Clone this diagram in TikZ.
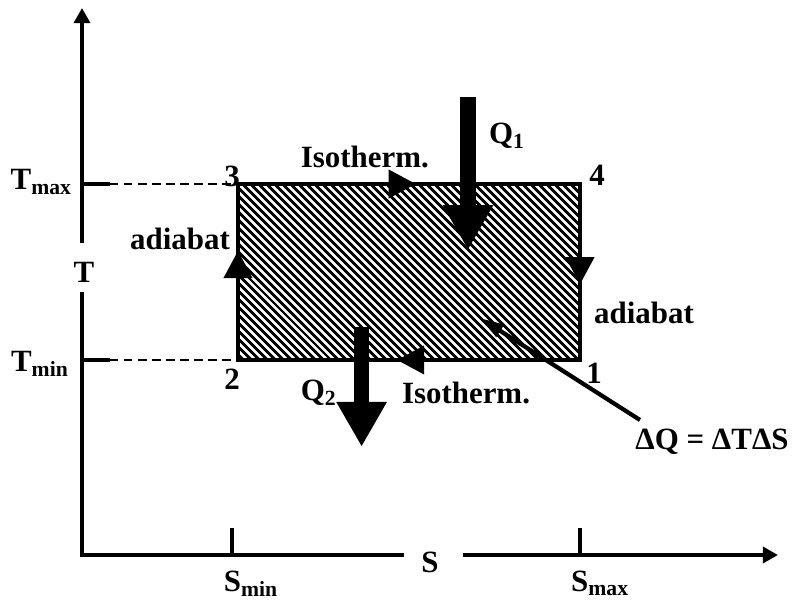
\documentclass[tikz,border=0pt]{standalone}
\usepackage{fontspec}
\setmainfont{Liberation Serif}
\usetikzlibrary{arrows.meta,patterns.meta,decorations.markings}

\begin{document}
\begin{tikzpicture}[
    ax/.style={line width=3pt},
    axarr/.style={line width=3pt, -{Triangle[length=0.38cm, width=0.4cm]}},
    guide/.style={line width=1pt, dash pattern=on 6pt off 4pt},
    leg/.style={line width=3pt, line cap=rect, postaction={decorate},
                decoration={markings, mark=at position #1 with
                  {\arrow{Triangle[length=0.68cm, width=0.7cm]}}}},
    heat/.style={line width=0.38cm, -{Triangle[length=1.12cm, width=1.18cm]}},
    ptr/.style={line width=3pt, -{Triangle[length=0.6cm, width=0.34cm]}},
    lbl/.style={font=\fontsize{22}{26}\selectfont\bfseries, inner sep=0pt},
]
\useasboundingbox (0,0) rectangle (19.8,15.05);

% --- axes ---
\coordinate (o) at (2.05, 1.175);
\coordinate (ylo) at (2.05, 7.7);
\coordinate (yhi) at (2.05, 8.97);
\coordinate (ytop) at (2.05, 14.85);
\coordinate (xlo) at (10.05, 1.175);
\coordinate (xhi) at (11.58, 1.175);
\coordinate (xtop) at (19.45, 1.175);

\draw[ax, line cap=rect] (o) -- (ylo);
\draw[axarr] (yhi) -- (ytop);
\draw[ax, line cap=rect] (o) -- (xlo);
\draw[axarr] (xhi) -- (xtop);

\node[lbl, anchor=base] (tax) at (2.1, 7.975) {T};
\node[lbl, anchor=base] (sax) at (10.75, 0.73) {S};

% ticks
\coordinate (tmx) at (2.05, 10.45);
\coordinate (tmn) at (2.05, 6.05);
\coordinate (smn) at (5.8, 1.175);
\coordinate (smx) at (14.5, 1.175);
\draw[ax] (tmx) -- ++(0.7, 0) coordinate (tmxe);
\draw[ax] (tmn) -- ++(0.7, 0) coordinate (tmne);
\draw[ax] (smn) -- ++(0, 0.68);
\draw[ax] (smx) -- ++(0, 0.68);

\node[lbl, anchor=base east] (tmaxl) at (1.8, 10.3) {T\textsubscript{max}};
\node[lbl, anchor=base east] (tminl) at (1.72, 5.75) {T\textsubscript{min}};
\node[lbl, anchor=base] (sminl) at (6.27, 0.27) {S\textsubscript{min}};
\node[lbl, anchor=base] (smaxl) at (15.0, 0.27) {S\textsubscript{max}};

% --- cycle ---
\coordinate (c1) at (14.5, 6.05);
\coordinate (c2) at (5.95, 6.05);
\coordinate (c3) at (5.95, 10.45);
\coordinate (c4) at (14.5, 10.45);

\draw[guide] (tmxe) -- (c3);
\draw[guide] (tmne) -- (c2);

\fill[white] (c2) rectangle (c4);
\fill[pattern={Lines[angle=-45, distance=4pt, line width=2.1pt]}] (c2) rectangle (c4);

\node[lbl, anchor=base] (n3) at (5.8, 10.38) {3};
\node[lbl, anchor=base] (n4) at (14.93, 10.42) {4};
\node[lbl, anchor=base] (n2) at (5.8, 5.3) {2};
\node[lbl, anchor=base] (n1) at (14.85, 5.47) {1};

\draw[leg=0.535] (c1) -- (c2);
\draw[leg=0.62] (c2) -- (c3);
\draw[leg=0.52] (c3) -- (c4);
\draw[leg=0.57] (c4) -- (c1);

\node[lbl, anchor=base] (iso1) at (9.12, 10.85) {Isotherm.};
\node[lbl, anchor=base] (iso2) at (11.65, 4.97) {Isotherm.};
\node[lbl, anchor=base] (adi1) at (4.5, 8.8) {adiabat};
\node[lbl, anchor=base] (adi2) at (16.1, 6.97) {adiabat};

% --- heat in / out ---
\coordinate (q1s) at (11.7, 12.63);
\coordinate (q1e) at (11.7, 8.8);
\draw[heat] (q1s) -- (q1e);
\node[lbl, anchor=west] (q1) at (12.22, 11.65) {Q\textsubscript{1}};

\coordinate (q2s) at (9.04, 6.88);
\coordinate (q2e) at (9.04, 3.88);
\draw[heat] (q2s) -- (q2e);
\node[lbl, anchor=east] (q2) at (8.42, 5.22) {Q\textsubscript{2}};

% --- area ---
\node[lbl, anchor=base] (dq) at (17.8, 3.8) {ΔQ = ΔTΔS};
\coordinate (dqs) at (16.0, 4.55);
\coordinate (dqe) at (12.0, 7.1);
\draw[ptr] (dqs) -- (dqe);

\end{tikzpicture}
\end{document}
